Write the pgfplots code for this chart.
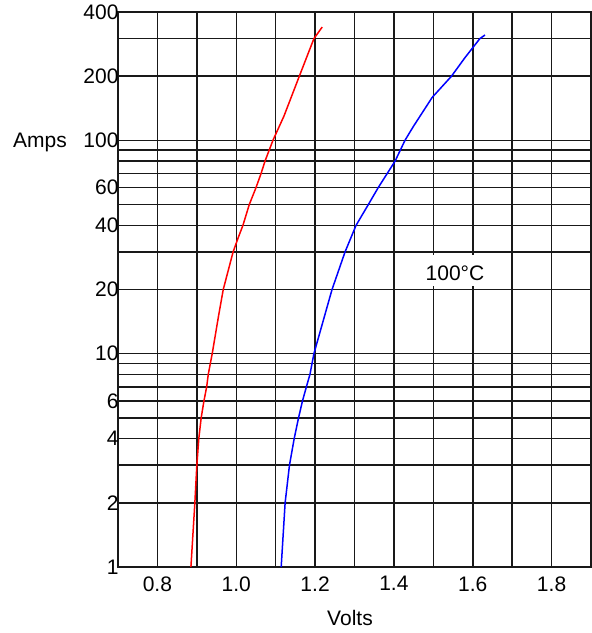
\documentclass[border=0pt]{standalone}
\usepackage{fontspec}
\setmainfont{Liberation Sans}
\usepackage{pgfplots}
\pgfplotsset{compat=1.18}
\begin{document}
\begin{tikzpicture}[font=\fontsize{21}{25}\selectfont]
\useasboundingbox (0,0) rectangle (592pt,633pt);
\begin{axis}[
    at={(118pt,66pt)}, anchor=south west,
    scale only axis, width=473pt, height=555pt,
    xmin=0.7, xmax=1.9,
    ymode=log, ymin=1, ymax=400,
    xtick={0.8,1,1.2,1.4,1.6,1.8},
    minor xtick={0.9,1.1,1.3,1.5,1.7},
    ytick={1,2,4,6,10,20,40,60,100,200,400},
    yticklabels={1,2,4,6,10,20,40,60,100,200,400},
    minor ytick={3,5,7,8,9,30,50,70,80,90,300},
    xticklabel style={/pgf/number format/fixed,
      /pgf/number format/fixed zerofill,
      /pgf/number format/precision=1},
    x tick label style={yshift=-6pt},
    y tick label style={xshift=4pt},
    /pgf/number format/assume math mode=true,
    grid=both,
    major grid style={black!90, line width=1.5pt},
    minor grid style={black!90, line width=1.5pt},
    axis line style={black!90, line width=1.6pt},
    major tick length=0pt, minor tick length=0pt,
    clip=false,
]
% annotation background
\fill[white] (axis cs:1.415,20.7) rectangle (axis cs:1.685,29.1);
\node at (axis cs:1.555,23.8) {100°C};

% red curve
\addplot[red, line width=1.5pt] coordinates {
(0.885,1) (0.895,2) (0.900,3) (0.905,4) (0.911,5) (0.918,6) (0.925,7)
(0.929,8) (0.939,10) (0.955,15) (0.967,20) (0.992,30) (1.005,35)
(1.017,40) (1.033,50) (1.050,60) (1.063,70) (1.073,80) (1.093,100)
(1.121,130) (1.160,200) (1.197,300) (1.218,340)
};
% blue curve
\addplot[blue, line width=1.5pt] coordinates {
(1.114,1) (1.124,2) (1.135,3) (1.147,4) (1.158,5) (1.168,6) (1.178,7)
(1.187,8) (1.197,10) (1.243,20) (1.276,30) (1.304,40) (1.335,50)
(1.360,60) (1.383,70) (1.403,80) (1.428,100) (1.449,116) (1.497,159)
(1.546,200) (1.580,244) (1.618,300) (1.631,312)
};
\end{axis}
\node at (40pt,491pt) {Amps};
\node at (350pt,15pt) {Volts};
\end{tikzpicture}
\end{document}
